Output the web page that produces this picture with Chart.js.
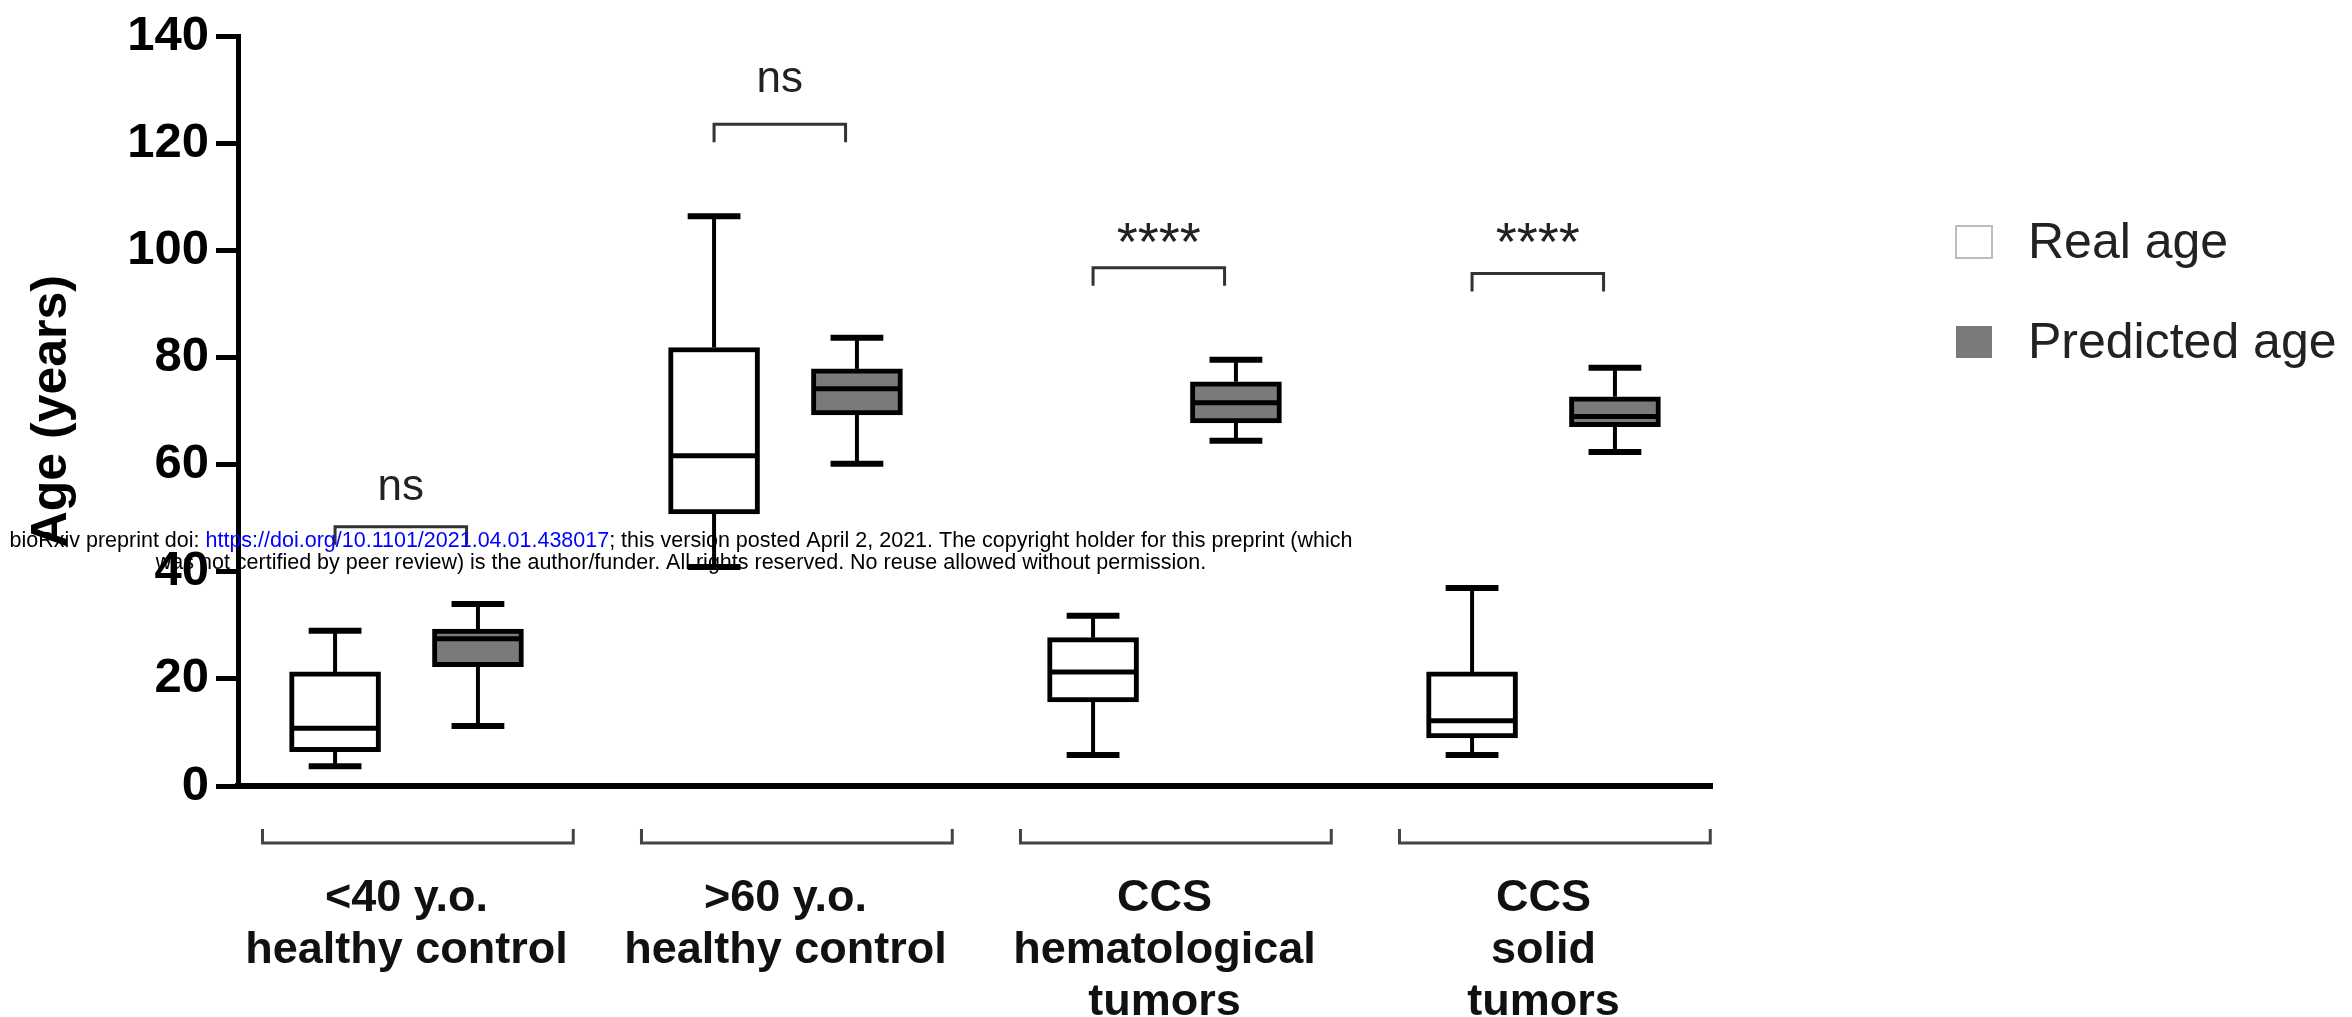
<!DOCTYPE html>
<html>
<head>
<meta charset="utf-8">
<script src="https://cdn.jsdelivr.net/npm/chart.js@4.4.1/dist/chart.umd.min.js"></script>
<style>
  html, body { margin: 0; padding: 0; background: #fff; }
  #wrap { width: 2352px; height: 1017px; }
</style>
</head>
<body>
<div id="wrap"><canvas id="ageChart" width="2352" height="1017"></canvas></div>
<script>
// ---- data: box stats per group as [min, q1, median, q3, max] ----
const groupLabels = [
  ['<40 y.o.', 'healthy control'],
  ['>60 y.o.', 'healthy control'],
  ['CCS', 'hematological', 'tumors'],
  ['CCS', 'solid', 'tumors']
];
const realAge = [
  [3.7, 6.4, 10.8, 21.3, 29.0],
  [40.9, 50.8, 61.7, 81.9, 106.4],
  [5.8, 15.7, 21.3, 27.7, 31.8],
  [5.8, 9.0, 12.2, 21.3, 37.0]
];
const predictedAge = [
  [11.2, 22.3, 27.5, 29.3, 34.0],
  [60.2, 69.3, 74.2, 77.9, 83.7],
  [64.5, 67.8, 71.6, 75.5, 79.6],
  [62.4, 67.1, 69.0, 72.7, 78.1]
];
const seriesNames = ['Real age', 'Predicted age'];
const sigLabels = ['ns', 'ns', '****', '****'];
const sigBracketY = [48.4, 123.6, 96.8, 95.7];
const sigTextY = [53.5, 129.7, 98.3, 98.3];
const yTicks = [0, 20, 40, 60, 80, 100, 120, 140];

const FONT = "'Liberation Sans', Arial, Helvetica, sans-serif";
const PAIR_OFFSET = 0.1885;   // half distance between the two boxes of a group (x units)
const GREY = '#7a7a7a';

function toBars(stats, shift) {
  return stats.map((s, i) => ({ x: i + shift, y: [s[1], s[3]] }));
}

function hLine(ctx, x1, x2, y) { ctx.beginPath(); ctx.moveTo(x1, y); ctx.lineTo(x2, y); ctx.stroke(); }
function vLine(ctx, x, y1, y2) { ctx.beginPath(); ctx.moveTo(x, y1); ctx.lineTo(x, y2); ctx.stroke(); }

// whiskers, caps, medians, brackets, legend and the preprint banner
const boxPlotParts = {
  id: 'boxPlotParts',
  beforeDatasetsDraw(chart) {
    const { ctx, scales: { y } } = chart;
    ctx.save();
    ctx.strokeStyle = '#000';
    chart.data.datasets.forEach((ds, di) => {
      chart.getDatasetMeta(di).data.forEach((bar, i) => {
        const s = ds.stats[i];
        const cap = bar.width * 0.29;
        ctx.lineWidth = 4;
        vLine(ctx, bar.x, y.getPixelForValue(s[3]), y.getPixelForValue(s[4]));
        vLine(ctx, bar.x, y.getPixelForValue(s[1]), y.getPixelForValue(s[0]));
        ctx.lineWidth = 6;
        hLine(ctx, bar.x - cap, bar.x + cap, y.getPixelForValue(s[4]));
        hLine(ctx, bar.x - cap, bar.x + cap, y.getPixelForValue(s[0]));
      });
    });
    ctx.restore();
  },
  afterDatasetsDraw(chart) {
    const { ctx, scales: { y } } = chart;
    ctx.save();
    ctx.strokeStyle = '#000';
    ctx.lineWidth = 5;
    chart.data.datasets.forEach((ds, di) => {
      chart.getDatasetMeta(di).data.forEach((bar, i) => {
        const half = bar.width / 2 - 2;
        hLine(ctx, bar.x - half, bar.x + half, y.getPixelForValue(ds.stats[i][2]));
      });
    });
    ctx.restore();
  },
  afterDraw(chart) {
    const { ctx, scales: { x, y } } = chart;
    ctx.save();

    // significance brackets above each pair
    ctx.strokeStyle = '#333';
    ctx.fillStyle = '#222';
    ctx.lineWidth = 3;
    ctx.textAlign = 'center';
    ctx.textBaseline = 'alphabetic';
    sigLabels.forEach((lab, i) => {
      const x1 = x.getPixelForValue(i - PAIR_OFFSET);
      const x2 = x.getPixelForValue(i + PAIR_OFFSET - 0.03);
      const yb = y.getPixelForValue(sigBracketY[i]);
      ctx.beginPath();
      ctx.moveTo(x1, yb + 18); ctx.lineTo(x1, yb); ctx.lineTo(x2, yb); ctx.lineTo(x2, yb + 18);
      ctx.stroke();
      ctx.font = (lab === 'ns' ? '44px ' : '54px ') + FONT;
      ctx.fillText(lab, (x1 + x2) / 2, y.getPixelForValue(sigTextY[i]));
    });

    // group brackets under the x axis
    const axisY = chart.chartArea.bottom;
    ctx.strokeStyle = '#444';
    ctx.lineWidth = 3;
    groupLabels.forEach((_, i) => {
      const x1 = x.getPixelForValue(i - 0.38);
      const x2 = x.getPixelForValue(i + 0.44);
      ctx.beginPath();
      ctx.moveTo(x1, axisY + 43); ctx.lineTo(x1, axisY + 57); ctx.lineTo(x2, axisY + 57); ctx.lineTo(x2, axisY + 43);
      ctx.stroke();
    });

    // legend
    ctx.textAlign = 'left';
    ctx.textBaseline = 'middle';
    ctx.font = '50px ' + FONT;
    chart.data.datasets.forEach((ds, di) => {
      const cy = 242 + di * 100;
      ctx.fillStyle = ds.backgroundColor;
      ctx.fillRect(1956, cy - 16, 36, 32);
      if (di === 0) {
        ctx.strokeStyle = '#bdbdbd';
        ctx.lineWidth = 2;
        ctx.strokeRect(1956, cy - 16, 36, 32);
      }
      ctx.fillStyle = '#222';
      ctx.fillText(ds.label, 2028, cy + 2);
    });

    // preprint banner overlaid on the figure
    ctx.font = '21.5px ' + FONT;
    const line1 = [
      ['bioRxiv preprint doi: ', '#000'],
      ['https://doi.org/10.1101/2021.04.01.438017', '#0000ff'],
      ['; this version posted April 2, 2021. The copyright holder for this preprint (which', '#000']
    ];
    const line2 = [
      ['was not certified by peer review) is the author/funder. All rights reserved. No reuse allowed without permission.', '#000']
    ];
    [[line1, 541], [line2, 563]].forEach(([parts, yy]) => {
      const total = parts.reduce((w, p) => w + ctx.measureText(p[0]).width, 0);
      let xx = 681 - total / 2;
      parts.forEach(([txt, col]) => {
        ctx.fillStyle = col;
        ctx.fillText(txt, xx, yy);
        xx += ctx.measureText(txt).width;
      });
    });

    ctx.restore();
  }
};

new Chart(document.getElementById('ageChart'), {
  type: 'bar',
  data: {
    datasets: [
      {
        label: seriesNames[0],
        data: toBars(realAge, -PAIR_OFFSET),
        stats: realAge,
        backgroundColor: '#ffffff'
      },
      {
        label: seriesNames[1],
        data: toBars(predictedAge, PAIR_OFFSET),
        stats: predictedAge,
        backgroundColor: GREY
      }
    ]
  },
  options: {
    responsive: false,
    animation: false,
    layout: { padding: { top: 33, right: 640, left: 0, bottom: 0 } },
    datasets: {
      bar: {
        borderColor: '#000',
        borderWidth: 5,
        borderSkipped: false,
        barThickness: 91,
        grouped: false
      }
    },
    plugins: { legend: { display: false }, tooltip: { enabled: false } },
    scales: {
      x: {
        type: 'linear',
        offset: false,
        min: -0.4446,
        max: 3.4446,
        afterFit(s) { s.height = 231; },
        afterBuildTicks(s) { s.ticks = groupLabels.map((_, i) => ({ value: i })); },
        grid: { display: false, drawTicks: false },
        border: { display: true, width: 6, color: '#000' },
        ticks: {
          autoSkip: false,
          maxRotation: 0,
          padding: 86,
          color: '#111',
          font: { family: FONT, size: 45, weight: 'bold', lineHeight: 1.16 },
          callback: v => groupLabels[Math.round(v)]
        }
      },
      y: {
        min: 0,
        max: 140,
        afterFit(s) { s.width = 238; },
        afterBuildTicks(s) { s.ticks = yTicks.map(v => ({ value: v })); },
        grid: { display: true, drawOnChartArea: false, drawTicks: true, tickLength: 22, lineWidth: 5, color: '#000' },
        border: { display: true, width: 5, color: '#000' },
        ticks: { padding: 7, color: '#000', font: { family: FONT, size: 49, weight: 'bold' } },
        title: {
          display: true,
          text: 'Age (years)',
          color: '#000',
          font: { family: FONT, size: 50, weight: 'bold' },
          padding: { top: 22, bottom: 0 }
        }
      }
    }
  },
  plugins: [boxPlotParts]
});
</script>
</body>
</html>
